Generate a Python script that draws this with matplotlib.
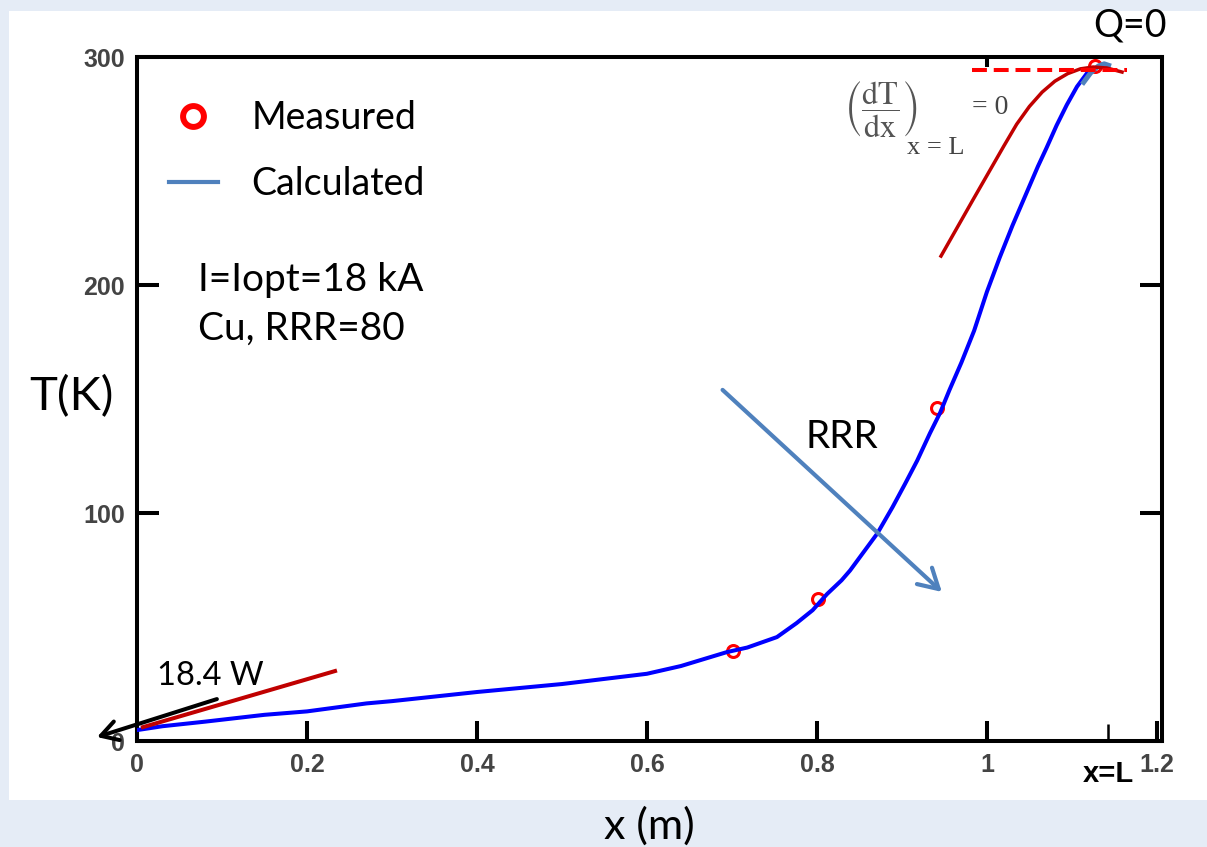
import matplotlib.pyplot as plt
from matplotlib.patches import Rectangle
from matplotlib.lines import Line2D

plt.rcParams['mathtext.fontset'] = 'stix'

# calculated temperature profile along the lead (Mathcad curve)
x_calc = [0.0, 0.03, 0.08, 0.15, 0.2, 0.27, 0.3, 0.4, 0.5, 0.6, 0.64, 0.694,
          0.718, 0.753, 0.776, 0.795, 0.812, 0.829, 0.839, 0.871, 0.889, 0.904,
          0.918, 0.933, 0.945, 0.956, 0.97, 0.985, 1.0, 1.015, 1.03, 1.045,
          1.06, 1.07, 1.082, 1.094, 1.106, 1.118]
T_calc = [4.8, 6.5, 8.5, 11.5, 13.0, 16.5, 17.5, 21.5, 25.0, 29.5, 32.9, 39.0,
          41.0, 45.6, 51.7, 57.4, 64.5, 70.5, 74.8, 91.0, 102.6, 113.0,
          123.0, 135.0, 144.0, 154.0, 166.0, 180.0, 197.0, 212.0, 226.0, 239.0,
          252.0, 260.0, 270.0, 279.0, 287.0, 293.0]

# end of the calculated curve near x=L
x_end = [1.112, 1.122, 1.131, 1.138, 1.146]
T_end = [288, 293, 296, 297, 296]

# measured temperatures
x_meas = [0.701, 0.801, 0.941, 1.127]
T_meas = [39.5, 62.3, 146, 296]

# zero slope at the warm end
x_flat = [0.982, 1.165]
T_flat = [294.3, 294.3]

# hand drawn slopes
x_warm = [0.946, 0.9835, 1.02, 1.035, 1.05, 1.065, 1.08, 1.095, 1.11, 1.125,
          1.141, 1.159]
T_warm = [212.7, 237.3, 261.0, 270.5, 278.3, 284.6, 289.4, 292.7, 294.8, 295.6,
          295.2, 293.4]
x_cold = [0.007, 0.233]
T_cold = [6.1, 30.7]

# arrows: (tail, head)
heat_arrow = [(0.094, 18.4), (-0.047, 1.75)]
rrr_arrow = [(0.689, 154), (0.947, 65.4)]

x_ticks = [0, 0.2, 0.4, 0.6, 0.8, 1.0, 1.2]
x_tick_labels = ['0', '0.2', '0.4', '0.6', '0.8', '1', '1.2']
y_ticks = [0, 100, 200, 300]
y_tick_labels = ['0', '100', '200', '300']
x_L = 1.143

TXT = 'Lato'
NUM = ['Liberation Sans', 'DejaVu Sans']
SERIF = ['Liberation Serif', 'DejaVu Serif']
BLUE = '#4f81bd'
DARKRED = '#c00000'

fig = plt.figure(figsize=(12.07, 8.47), dpi=100)
fig.patch.set_facecolor('#e5ecf6')
fig.patches.append(Rectangle((9 / 1207, 47 / 847), 1, 789 / 847,
                             transform=fig.transFigure, facecolor='white',
                             edgecolor='none', zorder=-5))

ax = fig.add_axes([0.1135, 0.1251, 0.8492, 0.8076])
ax.set_facecolor('none')
ax.set_xlim(0, 1.206)
ax.set_ylim(0, 300)

ax.plot(x_meas, T_meas, ls='none', marker='o', ms=8.6, mfc='none',
        mec='#ff0000', mew=2.2, zorder=3)
ax.plot(x_calc, T_calc, color='#0000ff', lw=2.9, zorder=4)
ax.plot(x_end, T_end, color=BLUE, lw=3.6, solid_capstyle='butt', zorder=5)
ax.plot(x_warm, T_warm, color=DARKRED, lw=2.5, zorder=6)
ax.plot(x_flat, T_flat, color='#ff0000', lw=2.9, dashes=(3.7, 1.7), zorder=7)
ax.plot(x_cold, T_cold, color=DARKRED, lw=2.9, zorder=6)

ax.annotate('', xy=heat_arrow[1], xytext=heat_arrow[0], annotation_clip=False,
            arrowprops=dict(arrowstyle='->,head_length=0.6,head_width=0.35',
                            mutation_scale=20, color='black', lw=2.9,
                            shrinkA=0, shrinkB=0), zorder=8)
ax.annotate('', xy=rrr_arrow[1], xytext=rrr_arrow[0],
            arrowprops=dict(arrowstyle='->,head_length=0.7,head_width=0.4',
                            mutation_scale=20, color=BLUE, lw=3,
                            shrinkA=0, shrinkB=0), zorder=8)

# axes frame and ticks
for s in ax.spines.values():
    s.set_linewidth(2.9)
ax.set_xticks(x_ticks)
ax.set_xticklabels(x_tick_labels)
ax.set_yticks(y_ticks)
ax.set_yticklabels(y_tick_labels)
ax.tick_params(which='major', direction='in', length=14.5, width=2.9, pad=8.6,
               right=True, labelsize=18, labelcolor='#444444')
ax.tick_params(axis='y', which='major', length=15.8)
for lbl in ax.get_xticklabels() + ax.get_yticklabels():
    lbl.set_family(NUM)
    lbl.set_fontweight('bold')

ax.set_xticks([x_L], minor=True)
ax.set_xticklabels(['x=L'], minor=True)
ax.tick_params(axis='x', which='minor', direction='in', length=12, width=1.8,
               pad=14, labelsize=21)
for lbl in ax.get_xticklabels(minor=True):
    lbl.set_family(NUM)
    lbl.set_fontweight('bold')

top = ax.secondary_xaxis('top')
top.set_xticks([1.0])
top.tick_params(direction='in', length=7.2, width=2.9, labeltop=False)
top.spines['top'].set_visible(False)

ax.set_xlabel('x (m)', family=TXT, fontsize=31, va='center')
ax.xaxis.set_label_coords(0.5, -0.124)
ax.set_ylabel('T(K)', family=TXT, fontsize=34, rotation=0, va='center', ha='center')
ax.yaxis.set_label_coords(-0.064, 0.503)

# legend
h_meas = Line2D([], [], ls='none', marker='o', ms=15, mfc='none',
                mec='#ff0000', mew=4.3)
h_calc = Line2D([], [], color=BLUE, lw=3)
ax.legend([h_meas, h_calc], ['Measured', 'Calculated'], loc='upper left',
          bbox_to_anchor=(0.031, 0.937), frameon=False,
          prop={'family': TXT, 'size': 27}, handlelength=1.3,
          handletextpad=0.9, labelspacing=0.8, borderpad=0, borderaxespad=0)

# annotations
ax.text(0.0718, 202, 'I=Iopt=18 kA', family=TXT, fontsize=28, va='center')
ax.text(0.0718, 181, 'Cu, RRR=80', family=TXT, fontsize=28, va='center')
ax.text(0.786, 133.3, 'RRR', family=TXT, fontsize=28, va='center')
ax.text(0.0235, 24.6, '18.4 W', family=TXT, fontsize=23.5, va='baseline')
ax.text(1.1247, 308.8, 'Q=0', family=TXT, fontsize=27, va='baseline')

ax.text(0.832, 277, r'$\left(\dfrac{\mathrm{dT}}{\mathrm{dx}}\right)$',
        fontsize=23, color='#555555', va='center')
ax.text(0.906, 260, 'x = L', family=SERIF, fontsize=19, color='#444444',
        va='center')
ax.text(0.982, 278, '= 0', family=SERIF, fontsize=20, color='#444444',
        va='center')

fig.savefig('out.png', dpi=100, facecolor=fig.get_facecolor())
